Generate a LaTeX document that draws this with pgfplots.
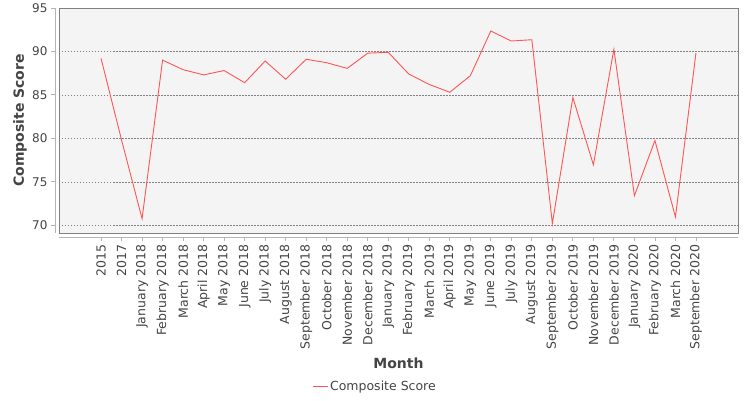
\documentclass[border=0pt]{standalone}
\usepackage{pgfplots}
\pgfplotsset{compat=1.18}
\usepackage{fontspec}
\setmainfont{DejaVu Sans}
\definecolor{txt}{HTML}{444444}
\definecolor{bg}{HTML}{F4F4F4}
\definecolor{ser}{HTML}{FF5555}
\definecolor{frame}{HTML}{808080}
\definecolor{axl}{HTML}{B4B4B4}
\definecolor{gridc}{HTML}{808080}

\begin{document}
\begin{tikzpicture}
\begin{axis}[
    name=ax,
    scale only axis,
    width=679pt, height=225pt,
    xmin=-2.05, xmax=31.05,
    ymin=69.1, ymax=95,
    axis x line=bottom, axis y line=left,
    axis x line shift=4pt, axis y line shift=4pt,
    axis line style={axl, line width=0.8pt, -},
    axis background/.style={fill=bg, draw=frame, line width=0.8pt},
    tick align=outside,
    major tick length=4pt,
    tick style={axl, line width=0.8pt},
    xtick={0,...,29},
    xticklabels={2015, 2017, January 2018, February 2018, March 2018, April 2018, May 2018, June 2018, July 2018, August 2018, September 2018, October 2018, November 2018, December 2018, January 2019, February 2019, March 2019, April 2019, May 2019, June 2019, July 2019, August 2019, September 2019, October 2019, November 2019, December 2019, January 2020, February 2020, March 2020, September 2020},
    xticklabel style={rotate=90, anchor=east, font=\fontsize{12.5}{12.5}\selectfont, text=txt},
    ytick={70,75,...,95},
    yticklabel style={font=\fontsize{12}{12}\selectfont, text=txt},
    /pgf/number format/assume math mode=true,
    ymajorgrids=true,
    grid style={gridc, line width=0.5pt, dash pattern=on 1.5pt off 1.5pt},
    xlabel={Month},
    ylabel={Composite Score},
    xlabel style={at={(axis description cs:0.5,-0.578)}, anchor=center, font=\bfseries\fontsize{14}{14}\selectfont, text=txt},
    ylabel style={at={(axis description cs:-0.0574,0.5)}, anchor=center, rotate=0, font=\bfseries\fontsize{14}{14}\selectfont, text=txt},
    legend style={at={(axis description cs:0.4654,-0.684)}, anchor=center, draw=none, fill=none, font=\fontsize{12.5}{12.5}\selectfont, text=txt},
    legend image code/.code={\draw[#1] (0pt,0pt) -- (15pt,0pt);},
]
\addplot[ser, line width=0.9pt, mark=none] coordinates {
    (0,89.2) (1,79.8) (2,70.75) (3,89.0) (4,87.9) (5,87.3) (6,87.8) (7,86.4)
    (8,88.9) (9,86.8) (10,89.1) (11,88.7) (12,88.05) (13,89.8) (14,89.9)
    (15,87.4) (16,86.2) (17,85.3) (18,87.2) (19,92.35) (20,91.2) (21,91.35)
    (22,70.2) (23,84.7) (24,76.95) (25,90.25) (26,73.4) (27,79.75) (28,70.95)
    (29,89.8)
};
\addlegendentry{Composite Score}
\end{axis}
\pgfresetboundingbox
\path[use as bounding box] (ax.south west) ++(-59pt,-167pt) rectangle ++(750pt,400pt);
\end{tikzpicture}
\end{document}
